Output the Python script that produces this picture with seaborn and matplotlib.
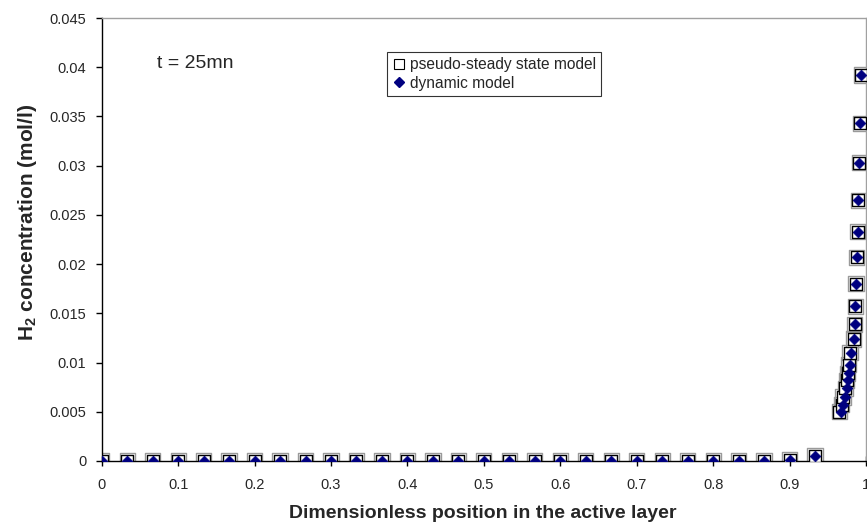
import numpy as np
import pandas as pd
import matplotlib
matplotlib.use("Agg")
import matplotlib.pyplot as plt
from matplotlib.lines import Line2D
import seaborn as sns

# Uniform grid across the layer (step 1/30) followed by the refined region near x = 1
x_grid = [i / 30 for i in range(29)]
c_grid = [0.0] * 27 + [0.0001, 0.0005]

x_refined = [0.967, 0.970, 0.972, 0.9747, 0.977, 0.978, 0.9795, 0.981, 0.984,
             0.985, 0.986, 0.987, 0.988, 0.989, 0.990, 0.991, 0.9923, 0.9937]
c_refined = [0.0050, 0.0057, 0.0065, 0.0074, 0.0082, 0.0089, 0.0098, 0.0110, 0.0124,
             0.0139, 0.0157, 0.0180, 0.0207, 0.0233, 0.0265, 0.0303, 0.0343, 0.0392]

# pseudo-steady state solution sits marginally left of the dynamic one in the steep zone
x_shift_pss = [-0.002] * 8 + [0.0] * 10

x_dynamic = x_grid + x_refined
c_dynamic = c_grid + c_refined
x_pss = x_grid + [a + b for a, b in zip(x_refined, x_shift_pss)]
c_pss = c_grid + c_refined

x_ticks = [0, 0.1, 0.2, 0.3, 0.4, 0.5, 0.6, 0.7, 0.8, 0.9, 1]
x_ticklabels = ["0", "0.1", "0.2", "0.3", "0.4", "0.5", "0.6", "0.7", "0.8", "0.9", "1"]
y_ticks = [0, 0.005, 0.01, 0.015, 0.02, 0.025, 0.03, 0.035, 0.04, 0.045]
y_ticklabels = ["0", "0.005", "0.01", "0.015", "0.02", "0.025", "0.03", "0.035", "0.04", "0.045"]

df_pss = pd.DataFrame({"x": x_pss, "c": c_pss})
df_dyn = pd.DataFrame({"x": x_dynamic, "c": c_dynamic})

sns.set_style("white")
plt.rcParams["font.family"] = ["Liberation Sans", "DejaVu Sans"]
plt.rcParams["mathtext.fontset"] = "custom"
plt.rcParams["mathtext.rm"] = "Liberation Sans"
plt.rcParams["mathtext.bf"] = "Liberation Sans:bold"

W, H = 867, 527
fig = plt.figure(figsize=(W / 100, H / 100), dpi=100)
left, right, top, bottom = 101.7, 866, 18, 461
ax = fig.add_axes([left / W, 1 - bottom / H, (right - left) / W, (bottom - top) / H])

navy = "#000080"
# soft grey halo around the square markers
sns.scatterplot(data=df_pss, x="x", y="c", ax=ax, marker="s", s=120,
                facecolor="none", edgecolor="#9a9a9a", linewidth=1.0, zorder=2)
sns.scatterplot(data=df_pss, x="x", y="c", ax=ax, marker="s", s=85,
                facecolor="white", edgecolor="black", linewidth=1.0, zorder=3)
sns.scatterplot(data=df_dyn, x="x", y="c", ax=ax, marker="D", s=30,
                color=navy, edgecolor=navy, linewidth=0.5, zorder=4)

ax.set_xlim(0, 1)
ax.set_ylim(0, 0.045)
ax.set_xticks(x_ticks)
ax.set_xticklabels(x_ticklabels)
ax.set_yticks(y_ticks)
ax.set_yticklabels(y_ticklabels)
ax.set_xlabel("")
ax.set_ylabel("")

for side in ("left", "bottom"):
    ax.spines[side].set_color("black")
    ax.spines[side].set_linewidth(1.0)
for side in ("top", "right"):
    ax.spines[side].set_color("#a0a0a0")
    ax.spines[side].set_linewidth(1.0)
    ax.spines[side].set_visible(True)

ax.tick_params(axis="y", direction="out", length=4, width=1, color="black",
               labelsize=10.5, pad=7, left=True)
ax.tick_params(axis="x", direction="inout", length=7, width=1, color="black",
               labelsize=10.5, pad=9, bottom=True)

fig.text(483 / W, 1 - 514 / H, "Dimensionless position in the active layer",
         ha="center", va="center", fontsize=14, fontweight="bold")
fig.text(28 / W, 1 - 222 / H, r"$\mathbf{H_2}$ concentration (mol/l)",
         ha="center", va="center", rotation=90, fontsize=15, fontweight="bold")
fig.text(157 / W, 1 - 63 / H, "t = 25mn", ha="left", va="center", fontsize=14)

handles = [
    Line2D([], [], linestyle="none", marker="s", markersize=7.5,
           markerfacecolor="white", markeredgecolor="black", markeredgewidth=0.8),
    Line2D([], [], linestyle="none", marker="D", markersize=5,
           markerfacecolor=navy, markeredgecolor=navy),
]
leg = ax.legend(handles, ["pseudo-steady state model", "dynamic model"],
                loc="upper left", bbox_to_anchor=(387 / W, 1 - 52 / H),
                bbox_transform=fig.transFigure, borderaxespad=0,
                frameon=True, fancybox=False, shadow=False, fontsize=11.2,
                handlelength=0.8, handletextpad=0.3, borderpad=0.35,
                labelspacing=0.2)
leg.get_frame().set_edgecolor("black")
leg.get_frame().set_linewidth(0.8)

fig.savefig("out.png", dpi=100)
